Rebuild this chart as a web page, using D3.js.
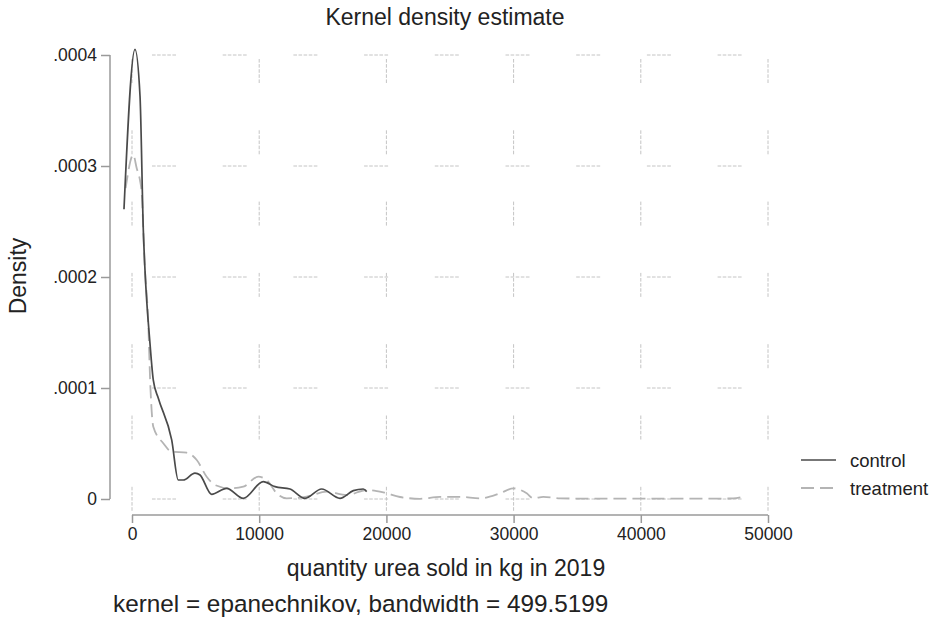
<!DOCTYPE html>
<html>
<head>
<meta charset="utf-8">
<script src="https://cdn.jsdelivr.net/npm/d3@7"></script>
<style>
  body { margin: 0; background: #fff; }
  svg { display: block; font-family: "Liberation Sans", Arial, Helvetica, sans-serif; }
</style>
</head>
<body>
<svg id="chart" width="932" height="620"></svg>
<script>
// kernel density curves (x in kg, y density)
const controlX = [-630, 236, 630, 890, 1022, 1415, 1675, 2070, 3120, 3640, 4030, 4950, 5350, 6260, 7440,
  8750, 10320, 11240, 12420, 13600, 14910, 16350, 17400, 18180, 18450];
const controlY = [0.000261, 0.000405, 0.000363, 0.000242, 0.000206, 0.00014, 0.000107, 0.0000907, 0.0000532,
  0.0000171, 0.0000171, 0.0000234, 0.0000216, 0.0000042, 0.0000096, 0.0000006, 0.0000156, 0.0000111,
  0.000009, 0.0000006, 0.000009, 0.0000006, 0.0000075, 0.000009, 0.0000066];

const treatX = [-500, 100, 370, 630, 760, 1000, 1258, 1450, 1675, 2460, 3120, 4300, 5090, 5870, 6530, 7700,
  8750, 9930, 10590, 11380, 12160, 13730, 15300, 16880, 18450, 19760, 21070, 22640, 24210, 25790, 27360,
  28930, 29980, 31030, 31550, 32340, 33650, 36000, 40000, 44000, 47250, 48060];
const treatY = [0.00028, 0.00031, 0.000298, 0.000287, 0.000276, 0.00021, 0.000164, 0.0001, 0.0000651,
  0.0000502, 0.0000426, 0.0000417, 0.0000351, 0.0000201, 0.0000126, 0.0000096, 0.0000111, 0.0000201,
  0.0000171, 0.0000051, 0.0000006, 0.0000021, 0.0000066, 0.0000036, 0.0000081, 0.000006, 0.0000018,
  0.0000002, 0.000002, 0.000002, 0.0000006, 0.0000051, 0.0000096, 0.0000051, 0.0000006, 0.000002,
  0.0000006, 0.0000003, 0.0000003, 0.0000003, 0.0000005, 0.000002];

const xTicks = [0, 10000, 20000, 30000, 40000, 50000];
const yTicks = [0, 0.0001, 0.0002, 0.0003, 0.0004];
const yTickLabels = ["0", ".0001", ".0002", ".0003", ".0004"];
const seriesNames = ["control", "treatment"];

const svg = d3.select("#chart");

const x = d3.scaleLinear().domain([0, 50000]).range([132, 768]);
const y = d3.scaleLinear().domain([0, 0.0004]).range([499, 55]);

const gridColor = "#c4c4c4";
const axisColor = "#9a9a9a";
const textColor = "#222";

// dotted-dash pattern for the grid: 5 short dots then a long gap
const dotDash = (gap) => {
  const a = [];
  for (let i = 0; i < 4; i++) a.push(3.6, 1.5);
  a.push(3.6, gap);
  return a.join(",");
};

// grid
const grid = svg.append("g");
grid.selectAll("line.h")
  .data(yTicks)
  .join("line")
  .attr("class", "h")
  .attr("x1", x(0) + 20).attr("x2", x(50000))
  .attr("y1", (d) => y(d)).attr("y2", (d) => y(d))
  .attr("stroke", gridColor).attr("stroke-width", 1)
  .attr("stroke-dasharray", dotDash(46.7));

grid.selectAll("line.v")
  .data(xTicks)
  .join("line")
  .attr("class", "v")
  .attr("x1", (d) => x(d)).attr("x2", (d) => x(d))
  .attr("y1", y(0.0004) + 4).attr("y2", 515)
  .attr("stroke", gridColor).attr("stroke-width", 1)
  .attr("stroke-dasharray", dotDash(47.3));

// y axis
const yAxis = d3.axisLeft(y).tickValues(yTicks).tickSize(9).tickPadding(4)
  .tickFormat((d, i) => yTickLabels[i]);
const gy = svg.append("g").attr("transform", "translate(110,0)").call(yAxis);
gy.select(".domain").attr("d", `M0,${y(0.0004)}V${y(0)}`);

// x axis
const xAxis = d3.axisBottom(x).tickValues(xTicks).tickSize(8).tickPadding(5).tickFormat(d3.format("d"));
const gx = svg.append("g").attr("transform", "translate(0,515)").call(xAxis);
gx.select(".domain").attr("d", `M${x(0)},0H${x(50000)}`);

[gx, gy].forEach((g) => {
  g.select(".domain").attr("stroke", axisColor).attr("stroke-width", 1.5).attr("fill", "none");
  g.selectAll(".tick line").attr("stroke", axisColor).attr("stroke-width", 1.5);
  g.selectAll(".tick text").attr("fill", textColor).attr("font-size", 17.5)
    .attr("font-family", "Liberation Sans, Arial, sans-serif");
});

// curves
const line = d3.line().x((d) => x(d[0])).y((d) => y(d[1])).curve(d3.curveMonotoneX);

svg.append("path")
  .datum(treatX.map((v, i) => [v, treatY[i]]))
  .attr("d", line)
  .attr("fill", "none")
  .attr("stroke", "#b4b4b4")
  .attr("stroke-width", 1.8)
  .attr("stroke-dasharray", "13,6");

svg.append("path")
  .datum(controlX.map((v, i) => [v, controlY[i]]))
  .attr("d", line)
  .attr("fill", "none")
  .attr("stroke", "#4a4a4a")
  .attr("stroke-width", 1.7);

// titles
svg.append("text")
  .attr("x", 445).attr("y", 25)
  .attr("text-anchor", "middle").attr("font-size", 23).attr("fill", textColor)
  .text("Kernel density estimate");

svg.append("text")
  .attr("x", 446).attr("y", 576)
  .attr("text-anchor", "middle").attr("font-size", 23).attr("fill", textColor)
  .text("quantity urea sold in kg in 2019");

svg.append("text")
  .attr("transform", "translate(26,276) rotate(-90)")
  .attr("text-anchor", "middle").attr("font-size", 23).attr("fill", textColor)
  .text("Density");

svg.append("text")
  .attr("x", 113).attr("y", 612)
  .attr("font-size", 24.3).attr("fill", textColor)
  .text("kernel = epanechnikov, bandwidth = 499.5199");

// legend
const legend = svg.append("g").attr("transform", "translate(801,460)");
const legendStyles = [
  { stroke: "#4a4a4a", dash: null, w: 1.7 },
  { stroke: "#b4b4b4", dash: "13,6", w: 1.8 },
];
seriesNames.forEach((name, i) => {
  const g = legend.append("g").attr("transform", `translate(0,${i * 28})`);
  g.append("line")
    .attr("x1", 0).attr("x2", 35).attr("y1", 0).attr("y2", 0)
    .attr("stroke", legendStyles[i].stroke)
    .attr("stroke-width", legendStyles[i].w)
    .attr("stroke-dasharray", legendStyles[i].dash);
  g.append("text")
    .attr("x", 49).attr("y", 6.5)
    .attr("font-size", 18.5).attr("fill", textColor)
    .text(name);
});
</script>
</body>
</html>
